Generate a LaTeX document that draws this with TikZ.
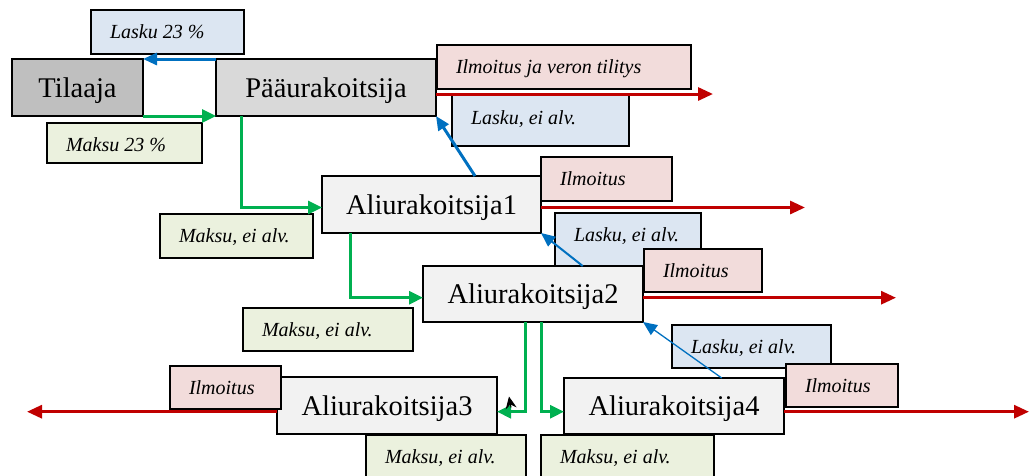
\documentclass[tikz,border=0pt]{standalone}
\usepackage{fontspec}
\setmainfont{Liberation Serif}
\usepackage{tikz}
\usetikzlibrary{arrows.meta}
\definecolor{paygreen}{HTML}{00B050}
\definecolor{invblue}{HTML}{0070C0}
\definecolor{repred}{HTML}{C00000}
\definecolor{invfill}{HTML}{DCE6F2}
\definecolor{payfill}{HTML}{EBF1DE}
\definecolor{repfill}{HTML}{F2DCDB}
\tikzset{
	party/.style={draw, line width=2.2pt, inner sep=0pt, outer sep=0pt,
		minimum width=220pt, minimum height=57pt, text height=19.5pt, text depth=0pt,
		fill=black!5, font=\fontsize{28.5}{32}\selectfont},
	tag/.style={draw, line width=1.6pt, anchor=north west, inner xsep=19pt, inner ysep=0pt,
		outer sep=0pt, align=flush left, text height=28.5pt, font=\fontsize{20}{24}\selectfont\itshape},
	inv/.style={tag, fill=invfill},
	pay/.style={tag, fill=payfill},
	rep/.style={tag, fill=repfill},
	payline/.style={line width=3pt, draw=paygreen, ->, >={Triangle[length=14pt,width=13pt]}},
	invline/.style={draw=invblue, ->, >={Triangle[length=14pt,width=12pt]}},
	repline/.style={line width=3pt, draw=repred, ->, >={Triangle[length=15pt,width=13pt]}},
}
\begin{document}
\begin{tikzpicture}[x=1pt, y=-1pt]
	\clip (0,0) rectangle (1030,475);
	% invoices and payments
	\node[inv, text width=115pt, text depth=15.5pt] at (91,10) (lt) {Lasku 23 \%};
	\node[pay, text width=117pt, text depth=11.5pt] at (47,123) (mt) {Maksu 23 \%};
	\node[inv, text width=139pt, text depth=22pt] at (452,95.5) (l1) {Lasku, ei alv.};
	\node[pay, text width=115pt, text depth=15.5pt] at (160,214) (m1) {Maksu, ei alv.};
	\node[inv, text width=108pt, text depth=24.5pt] at (555,213) (l2) {Lasku, ei alv.};
	\node[pay, text width=132pt, text depth=14.5pt] at (243,308) (m2) {Maksu, ei alv.};
	\node[inv, text width=121pt, text depth=14.5pt] at (672,325) (l3) {Lasku, ei alv.};
	\node[pay, text width=122pt, text depth=16.5pt] at (366,435) (m3) {Maksu, ei alv.};
	\node[pay, text width=135pt, text depth=16.5pt] at (541,435) (m4) {Maksu, ei alv.};
	% parties
	\node[party, fill=black!25, minimum width=131pt] at (77.5,87.5) (ti) {Tilaaja};
	\node[party, fill=black!15] at (326,87.5) (pu) {Pääurakoitsija};
	\node[party, minimum width=219pt] at (431.5,204.5) (a1) {Aliurakoitsija1};
	\node[party, minimum height=56pt] at (533,294) (a2) {Aliurakoitsija2};
	\node[party] at (387,405.5) (a3) {Aliurakoitsija3};
	\node[party, minimum height=56pt] at (674,406) (a4) {Aliurakoitsija4};
	% reports
	\node[rep, text width=216pt, text depth=15.5pt] at (437,45) (iv) {Ilmoitus ja veron tilitys};
	\node[rep, text width=93pt, text depth=15.5pt] at (541,157) (i1) {Ilmoitus};
	\node[rep, text width=80pt, text depth=14.5pt] at (644,249) (i2) {Ilmoitus};
	\node[rep, text width=73pt, text depth=14.5pt] at (170,366) (i3) {Ilmoitus};
	\node[rep, text width=74pt, text depth=14.5pt] at (786,364) (i4) {Ilmoitus};
	\coordinate (e0) at (713,94);
	\coordinate (e1) at (805,207.5);
	\coordinate (e2) at (896,297.7);
	\coordinate (e3) at (27,411.7);
	\coordinate (e4) at (1029,411.7);
	% money
	\draw[payline] (ti.south east) -- (pu.south west);
	\draw[payline] ([xshift=25pt]pu.south west) |- ([yshift=-3pt]a1.west);
	\draw[payline] ([xshift=28pt]a1.south west) |- ([yshift=-3.7pt]a2.west);
	\draw[payline] ([xshift=-8pt]a2.south) |- ([yshift=-6.2pt]a3.east);
	\draw[payline] ([xshift=8pt]a2.south) |- ([yshift=-5.7pt]a4.west);
	\draw[-{Stealth[length=12pt,width=11pt]}, line width=1pt] ([xshift=14pt,yshift=-2pt]a3.east) -- ([xshift=12pt,yshift=9pt]a3.east);
	% invoices
	\draw[invline, line width=3pt] (pu.north west) -- (ti.north east);
	\draw[invline, line width=3pt] ([xshift=43.5pt]a1.north) -- (pu.south east);
	\draw[invline, line width=2pt] ([xshift=49.7pt]a2.north) -- (a1.south east);
	\draw[invline, line width=1.3pt] ([xshift=47.7pt]a4.north) -- (a2.south east);
	% reports
	\draw[repline] ([yshift=-6.5pt]pu.east) -- (e0);
	\draw[repline] ([yshift=-3pt]a1.east) -- (e1);
	\draw[repline] ([yshift=-3.7pt]a2.east) -- (e2);
	\draw[repline] ([yshift=-6.2pt]a3.west) -- (e3);
	\draw[repline] ([yshift=-5.7pt]a4.east) -- (e4);
\end{tikzpicture}
\end{document}
